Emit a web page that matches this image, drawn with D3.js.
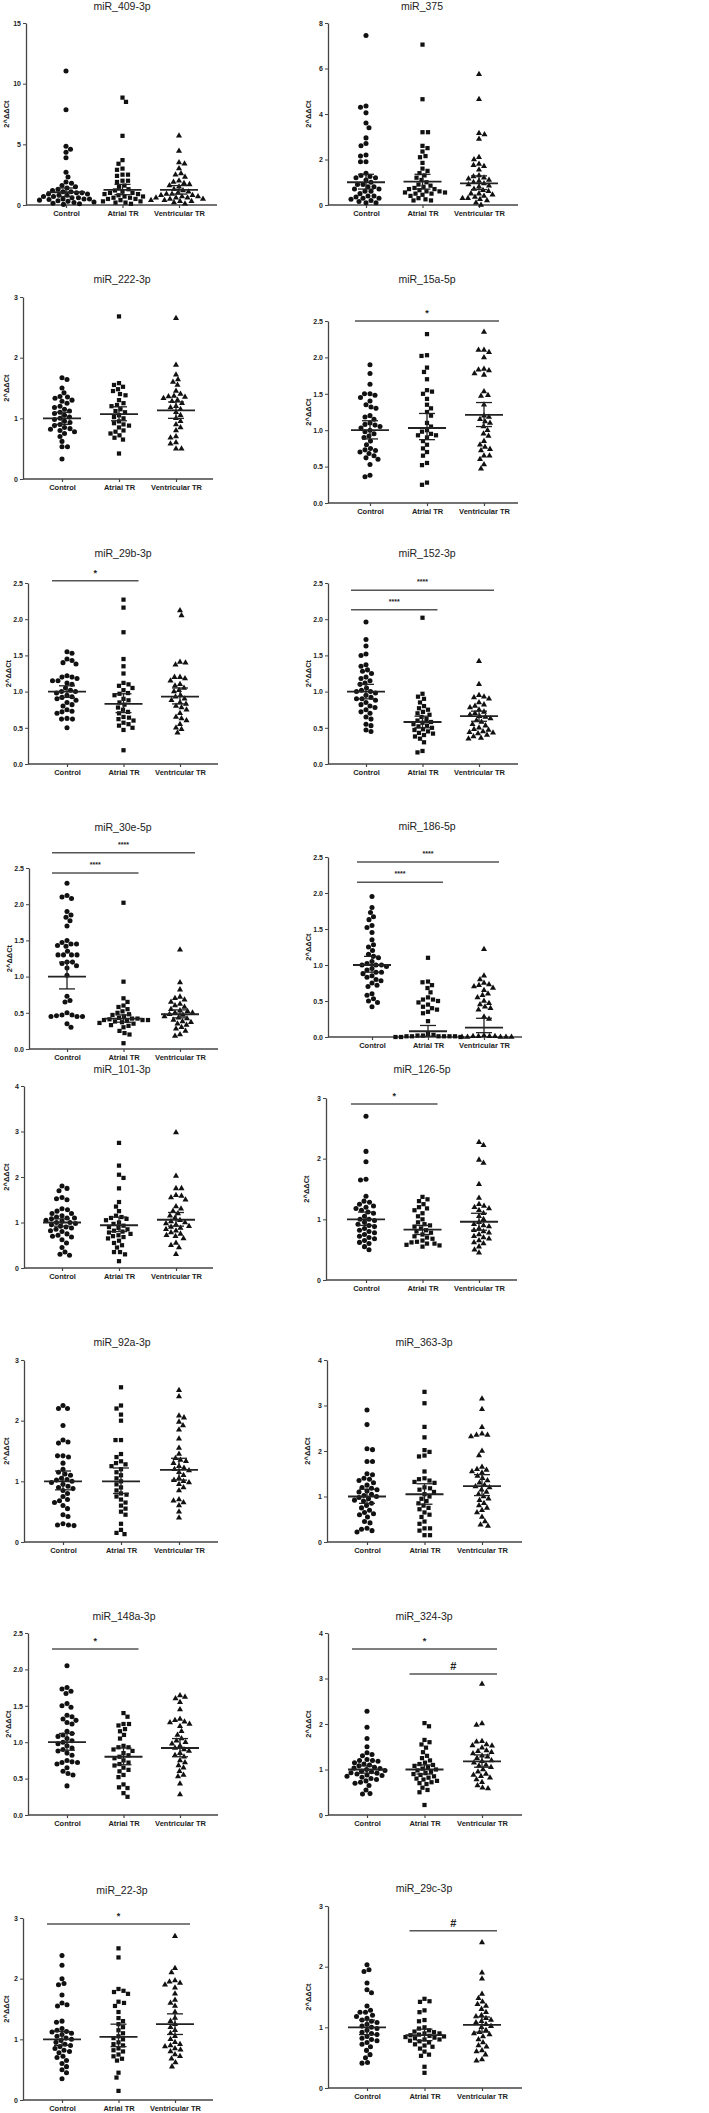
<!DOCTYPE html>
<html>
<head>
<meta charset="utf-8">
<script src="https://cdn.jsdelivr.net/npm/d3@7"></script>
<style>
  body { margin: 0; background: #fff; }
  svg { display: block; }
  text { font-family: "Liberation Sans Narrow", "Arial Narrow", "Liberation Sans", Arial, sans-serif; fill: #222; }
</style>
</head>
<body>
<svg width="709" height="2113"></svg>
<script>
const groups = ["Control", "Atrial TR", "Ventricular TR"];
const mirNames = ["miR_409-3p", "miR_375", "miR_222-3p", "miR_15a-5p", "miR_29b-3p", "miR_152-3p",
  "miR_30e-5p", "miR_186-5p", "miR_101-3p", "miR_126-5p", "miR_92a-3p", "miR_363-3p",
  "miR_148a-3p", "miR_324-3p", "miR_22-3p", "miR_29c-3p"];
const yMax  = [15, 8, 3, 2.5, 2.5, 2.5, 2.5, 2.5, 4, 3, 3, 4, 2.5, 4, 3, 3];
const yStep = [5, 2, 1, 0.5, 0.5, 0.5, 0.5, 0.5, 1, 1, 1, 1, 0.5, 1, 1, 1];

// 2^ΔΔCt values, one list per miRNA
const control = [
  [11.05,7.85,4.85,4.6,4.35,3.9,2.7,2.3,1.9,1.8,1.6,1.5,1.4,1.3,1.2,1.1,1.1,1.0,1.0,0.9,0.9,0.8,0.8,0.7,0.7,0.6,0.6,0.5,0.5,0.5,0.45,0.4,0.35,0.3,0.25,0.2,0.15,0.1,0.05],
  [7.45,4.35,4.3,4.05,3.6,3.4,2.95,2.7,2.6,2.2,2.15,1.9,1.9,1.4,1.3,1.25,1.2,1.2,1.1,1.0,0.9,0.9,0.8,0.8,0.7,0.7,0.6,0.6,0.5,0.4,0.4,0.35,0.3,0.3,0.25,0.2,0.15,0.1,0.1],
  [1.67,1.64,1.5,1.42,1.36,1.35,1.33,1.3,1.28,1.25,1.2,1.18,1.15,1.12,1.1,1.08,1.05,1.02,1.0,0.98,0.95,0.93,0.9,0.88,0.85,0.83,0.82,0.8,0.78,0.75,0.7,0.62,0.53,0.53,0.33],
  [1.9,1.78,1.63,1.5,1.5,1.48,1.45,1.4,1.35,1.32,1.3,1.2,1.18,1.15,1.1,1.08,1.07,1.05,1.03,1.0,0.98,0.95,0.92,0.9,0.85,0.8,0.75,0.73,0.72,0.7,0.68,0.65,0.62,0.6,0.53,0.38,0.36],
  [1.55,1.53,1.45,1.43,1.4,1.38,1.22,1.2,1.2,1.18,1.15,1.15,1.12,1.1,1.05,1.02,1.0,1.0,0.98,0.95,0.93,0.92,0.9,0.88,0.85,0.82,0.8,0.75,0.73,0.72,0.7,0.63,0.62,0.62,0.5],
  [1.96,1.72,1.63,1.52,1.5,1.37,1.35,1.3,1.28,1.25,1.2,1.18,1.15,1.12,1.1,1.05,1.02,1.0,1.0,0.98,0.95,0.92,0.9,0.9,0.88,0.85,0.82,0.8,0.78,0.75,0.72,0.7,0.65,0.62,0.55,0.53,0.47,0.45],
  [2.29,2.1,2.08,2.12,1.9,1.85,1.82,1.77,1.7,1.5,1.47,1.45,1.45,1.43,1.42,1.35,1.3,1.3,1.3,1.3,1.2,1.2,1.18,1.15,1.12,1.02,0.73,0.67,0.65,0.5,0.47,0.47,0.46,0.45,0.45,0.45,0.35,0.3],
  [1.95,1.8,1.73,1.67,1.63,1.55,1.52,1.45,1.35,1.28,1.25,1.2,1.15,1.12,1.1,1.05,1.02,1.0,1.0,1.0,0.98,0.95,0.93,0.9,0.9,0.88,0.85,0.83,0.8,0.78,0.75,0.72,0.7,0.6,0.58,0.53,0.5,0.48,0.42],
  [1.8,1.75,1.7,1.55,1.52,1.5,1.3,1.28,1.25,1.2,1.2,1.15,1.12,1.1,1.1,1.08,1.05,1.03,1.0,1.0,0.98,0.95,0.92,0.9,0.88,0.85,0.82,0.8,0.75,0.72,0.7,0.68,0.62,0.55,0.45,0.35,0.3,0.28],
  [2.7,2.12,1.95,1.66,1.65,1.38,1.3,1.28,1.25,1.22,1.2,1.18,1.15,1.12,1.1,1.05,1.0,1.0,0.98,0.95,0.92,0.9,0.88,0.85,0.82,0.8,0.78,0.75,0.72,0.7,0.68,0.65,0.62,0.6,0.55,0.5],
  [2.25,2.2,2.2,1.92,1.68,1.65,1.63,1.42,1.42,1.4,1.3,1.2,1.15,1.12,1.1,1.05,1.03,1.02,1.0,0.98,0.95,0.92,0.9,0.88,0.85,0.8,0.75,0.7,0.68,0.65,0.6,0.55,0.45,0.42,0.3,0.28,0.28,0.27],
  [2.9,2.58,2.05,2.03,1.77,1.77,1.5,1.48,1.4,1.38,1.35,1.3,1.25,1.2,1.18,1.15,1.12,1.1,1.05,1.02,1.0,0.98,0.95,0.92,0.9,0.85,0.8,0.75,0.7,0.65,0.62,0.6,0.55,0.45,0.42,0.3,0.28,0.25,0.22],
  [2.05,1.75,1.73,1.7,1.67,1.53,1.5,1.48,1.37,1.35,1.32,1.3,1.27,1.25,1.15,1.12,1.1,1.08,1.05,1.02,1.0,0.98,0.95,0.92,0.9,0.88,0.85,0.82,0.75,0.73,0.72,0.72,0.7,0.65,0.6,0.57,0.55,0.4],
  [2.28,1.93,1.68,1.5,1.37,1.33,1.3,1.22,1.2,1.2,1.18,1.15,1.12,1.1,1.08,1.05,1.03,1.02,1.0,0.98,0.96,0.95,0.93,0.92,0.9,0.88,0.87,0.85,0.83,0.8,0.78,0.75,0.72,0.7,0.65,0.55,0.47,0.46],
  [2.38,2.22,2.0,1.92,1.9,1.73,1.6,1.57,1.55,1.3,1.28,1.18,1.15,1.13,1.12,1.1,1.08,1.05,1.02,1.0,0.98,0.95,0.92,0.9,0.88,0.85,0.82,0.8,0.78,0.72,0.7,0.65,0.6,0.55,0.5,0.45,0.35],
  [2.03,1.95,1.92,1.73,1.62,1.57,1.35,1.28,1.25,1.25,1.2,1.18,1.15,1.12,1.1,1.08,1.05,1.02,1.0,0.98,0.95,0.92,0.9,0.88,0.85,0.82,0.8,0.78,0.75,0.72,0.68,0.62,0.55,0.5,0.42,0.41]
];
const atrial = [
  [8.85,8.5,5.7,3.7,3.4,3.0,2.9,2.5,2.5,2.4,2.0,2.0,1.9,1.6,1.5,1.3,1.2,1.1,1.0,1.0,0.9,0.9,0.8,0.7,0.7,0.6,0.6,0.5,0.5,0.4,0.3,0.3,0.2,0.2,0.1],
  [7.05,4.65,3.2,3.2,2.6,2.5,2.35,2.15,2.1,1.85,1.6,1.5,1.4,1.3,1.2,1.1,1.0,0.9,0.85,0.8,0.75,0.7,0.7,0.65,0.6,0.6,0.55,0.55,0.5,0.5,0.45,0.4,0.3,0.25,0.2,0.2],
  [2.68,1.58,1.55,1.52,1.48,1.45,1.4,1.38,1.3,1.25,1.22,1.2,1.15,1.12,1.1,1.05,1.02,1.0,0.95,0.92,0.9,0.88,0.85,0.8,0.78,0.75,0.72,0.68,0.65,0.42],
  [2.32,2.03,2.02,1.86,1.8,1.7,1.55,1.53,1.5,1.43,1.35,1.3,1.25,1.2,1.1,1.05,1.0,0.98,0.95,0.93,0.93,0.9,0.85,0.8,0.75,0.7,0.65,0.55,0.52,0.28,0.25],
  [2.27,2.16,1.82,1.45,1.35,1.25,1.12,1.1,1.08,1.05,1.02,0.98,0.97,0.95,0.9,0.88,0.85,0.82,0.78,0.75,0.72,0.7,0.65,0.64,0.62,0.6,0.57,0.55,0.53,0.5,0.47,0.19],
  [2.02,0.97,0.93,0.9,0.85,0.8,0.77,0.75,0.72,0.7,0.68,0.65,0.62,0.6,0.58,0.57,0.55,0.53,0.52,0.5,0.48,0.47,0.45,0.43,0.42,0.4,0.38,0.35,0.3,0.18,0.16],
  [2.02,0.93,0.7,0.65,0.6,0.58,0.55,0.52,0.5,0.48,0.47,0.45,0.43,0.42,0.42,0.41,0.4,0.4,0.4,0.39,0.38,0.37,0.36,0.35,0.33,0.32,0.3,0.25,0.22,0.2,0.08],
  [1.1,0.77,0.76,0.72,0.68,0.62,0.55,0.52,0.52,0.5,0.48,0.45,0.42,0.4,0.38,0.35,0.33,0.22,0.04,0.03,0.02,0.02,0.01,0.01,0.01,0.01,0.01,0.01,0.0,0.0,0.0],
  [2.75,2.25,2.05,1.98,1.75,1.45,1.35,1.25,1.15,1.12,1.1,1.08,1.05,1.0,0.97,0.93,0.9,0.88,0.85,0.82,0.8,0.78,0.75,0.72,0.7,0.68,0.65,0.6,0.55,0.5,0.45,0.35,0.35,0.3,0.15],
  [1.37,1.33,1.3,1.25,1.2,1.18,1.15,1.1,1.05,1.0,0.95,0.92,0.9,0.88,0.85,0.82,0.8,0.78,0.75,0.72,0.7,0.68,0.65,0.63,0.62,0.6,0.6,0.58,0.57,0.55],
  [2.55,2.25,2.2,2.1,2.0,1.68,1.68,1.45,1.4,1.33,1.3,1.28,1.25,1.2,1.15,1.1,1.05,1.0,0.95,0.9,0.85,0.8,0.78,0.75,0.7,0.65,0.6,0.55,0.5,0.45,0.3,0.2,0.15,0.13],
  [3.3,3.05,2.53,2.3,2.02,1.98,1.9,1.88,1.55,1.4,1.38,1.35,1.32,1.3,1.2,1.18,1.15,1.1,1.05,1.0,0.95,0.9,0.85,0.8,0.75,0.72,0.65,0.6,0.55,0.45,0.4,0.3,0.3,0.25,0.15,0.15],
  [1.4,1.35,1.25,1.25,1.23,1.18,1.15,1.1,1.05,0.95,0.93,0.93,0.9,0.88,0.85,0.82,0.8,0.78,0.75,0.72,0.7,0.68,0.65,0.62,0.6,0.55,0.52,0.42,0.38,0.37,0.3,0.25],
  [2.02,1.95,1.65,1.6,1.55,1.48,1.38,1.3,1.25,1.2,1.15,1.12,1.1,1.08,1.05,1.02,1.0,0.98,0.95,0.92,0.9,0.88,0.85,0.82,0.8,0.78,0.75,0.72,0.7,0.68,0.6,0.55,0.5,0.22],
  [2.5,2.35,1.83,1.8,1.78,1.75,1.62,1.6,1.55,1.45,1.35,1.3,1.25,1.2,1.15,1.1,1.05,1.02,1.0,0.95,0.92,0.9,0.85,0.82,0.8,0.75,0.72,0.68,0.65,0.45,0.37,0.15],
  [1.47,1.43,1.42,1.28,1.25,1.12,1.1,1.0,0.98,0.95,0.93,0.92,0.9,0.9,0.88,0.87,0.86,0.85,0.84,0.83,0.82,0.8,0.8,0.78,0.77,0.75,0.72,0.7,0.68,0.65,0.6,0.55,0.53,0.35,0.25]
];
const ventricular = [
  [5.7,4.45,3.5,3.4,3.0,2.6,2.5,2.3,2.0,1.9,1.8,1.7,1.6,1.5,1.3,1.2,1.1,1.0,0.9,0.9,0.8,0.8,0.7,0.7,0.6,0.6,0.6,0.5,0.5,0.4,0.4,0.3,0.3,0.2,0.1],
  [5.75,4.65,3.15,3.1,2.9,2.1,2.0,1.8,1.75,1.7,1.55,1.3,1.25,1.2,1.15,1.1,1.05,1.0,0.95,0.9,0.85,0.8,0.7,0.65,0.6,0.5,0.5,0.45,0.4,0.35,0.3,0.3,0.25,0.2,0.1,0.0],
  [2.65,1.88,1.72,1.64,1.6,1.55,1.45,1.4,1.37,1.36,1.35,1.33,1.3,1.28,1.25,1.2,1.18,1.15,1.1,1.05,1.0,0.95,0.9,0.85,0.8,0.7,0.68,0.6,0.58,0.5,0.5],
  [2.35,2.1,2.1,2.07,2.0,1.84,1.83,1.82,1.78,1.76,1.53,1.48,1.47,1.35,1.2,1.18,1.15,1.12,1.1,1.05,1.0,0.95,0.92,0.85,0.8,0.77,0.74,0.72,0.65,0.65,0.6,0.53,0.47],
  [2.12,2.05,1.41,1.4,1.37,1.2,1.2,1.18,1.15,1.1,1.08,1.05,1.02,1.0,0.95,0.93,0.9,0.88,0.85,0.83,0.8,0.78,0.75,0.7,0.65,0.63,0.6,0.55,0.5,0.48,0.43],
  [1.42,1.1,0.95,0.93,0.92,0.9,0.85,0.82,0.8,0.78,0.75,0.72,0.7,0.68,0.66,0.65,0.63,0.6,0.58,0.55,0.53,0.5,0.48,0.47,0.45,0.44,0.43,0.42,0.4,0.38,0.36,0.35],
  [1.37,0.92,0.82,0.72,0.7,0.68,0.65,0.62,0.6,0.58,0.55,0.53,0.52,0.5,0.5,0.48,0.47,0.45,0.43,0.42,0.4,0.38,0.37,0.35,0.33,0.3,0.28,0.25,0.2,0.18],
  [1.22,0.85,0.8,0.75,0.73,0.72,0.7,0.68,0.65,0.6,0.58,0.55,0.5,0.47,0.45,0.42,0.4,0.38,0.28,0.25,0.02,0.01,0.01,0.01,0.01,0.0,0.0,0.0,0.0,0.0],
  [2.98,2.02,1.75,1.75,1.6,1.58,1.55,1.5,1.35,1.3,1.25,1.2,1.15,1.1,1.05,1.02,1.0,0.98,0.95,0.92,0.9,0.88,0.85,0.82,0.78,0.75,0.72,0.7,0.65,0.55,0.5,0.45,0.3],
  [2.27,2.22,1.98,1.93,1.58,1.35,1.25,1.22,1.2,1.18,1.15,1.1,1.05,1.0,0.95,0.92,0.9,0.88,0.85,0.82,0.8,0.78,0.75,0.72,0.7,0.68,0.65,0.62,0.6,0.55,0.5,0.45],
  [2.5,2.4,2.08,2.05,1.98,1.92,1.85,1.7,1.55,1.45,1.38,1.35,1.33,1.3,1.25,1.22,1.2,1.18,1.15,1.1,1.05,1.02,1.0,0.98,0.95,0.9,0.85,0.7,0.68,0.65,0.6,0.5,0.4],
  [3.15,2.92,2.52,2.38,2.35,2.35,2.32,2.0,1.9,1.65,1.6,1.58,1.55,1.52,1.45,1.4,1.35,1.3,1.25,1.22,1.2,1.15,1.1,1.05,1.0,0.95,0.92,0.85,0.8,0.75,0.7,0.65,0.55,0.45,0.38,0.35],
  [1.64,1.62,1.6,1.55,1.45,1.32,1.3,1.28,1.27,1.25,1.22,1.15,1.1,1.05,1.02,1.0,0.98,0.95,0.92,0.9,0.88,0.85,0.82,0.8,0.75,0.72,0.68,0.65,0.6,0.55,0.53,0.43,0.28],
  [2.88,2.01,1.98,1.62,1.61,1.55,1.53,1.52,1.48,1.42,1.4,1.38,1.35,1.3,1.28,1.25,1.2,1.18,1.15,1.1,1.08,1.05,1.0,0.95,0.9,0.88,0.85,0.82,0.78,0.72,0.65,0.6,0.58],
  [2.7,2.17,2.1,1.97,1.95,1.93,1.9,1.85,1.75,1.65,1.6,1.55,1.45,1.35,1.3,1.25,1.2,1.15,1.1,1.05,1.0,0.95,0.92,0.9,0.88,0.85,0.83,0.8,0.75,0.72,0.68,0.62,0.55],
  [2.4,1.9,1.8,1.55,1.48,1.42,1.38,1.35,1.3,1.25,1.2,1.18,1.15,1.12,1.1,1.08,1.05,1.02,1.0,0.95,0.92,0.9,0.88,0.85,0.8,0.75,0.7,0.68,0.62,0.6,0.55,0.47,0.45]
];

// mean and SEM limits [Control, Atrial TR, Ventricular TR]
const means = [[1.05,1.25,1.25],[1.0,1.03,0.95],[1.0,1.07,1.13],[1.0,1.03,1.21],[1.0,0.83,0.93],[1.0,0.58,0.66],
  [1.0,0.42,0.48],[1.0,0.08,0.13],[1.0,0.94,1.06],[1.0,0.83,0.96],[1.0,1.0,1.19],[1.0,1.05,1.23],
  [1.0,0.8,0.92],[1.0,1.0,1.18],[1.0,1.04,1.25],[1.0,0.87,1.04]];
const semLow = [[0.7,0.85,0.9],[0.7,0.7,0.68],[0.9,0.96,1.0],[0.88,0.87,1.05],[0.92,0.71,0.83],[0.9,0.5,0.59],
  [0.83,0.37,0.43],[0.9,0.01,0.06],[0.92,0.8,0.92],[0.9,0.75,0.82],[0.86,0.8,1.02],[0.85,0.83,1.02],
  [0.89,0.69,0.8],[0.92,0.9,1.05],[0.9,0.88,1.08],[0.88,0.78,0.92]];
const semHigh = [[1.4,1.7,1.6],[1.35,1.35,1.28],[1.1,1.19,1.27],[1.13,1.23,1.38],[1.08,0.97,1.05],[1.1,0.66,0.73],
  [1.2,0.47,0.54],[1.12,0.16,0.26],[1.08,1.12,1.22],[1.12,0.9,1.1],[1.17,1.22,1.38],[1.16,1.28,1.48],
  [1.12,0.92,1.05],[1.08,1.1,1.32],[1.13,1.25,1.42],[1.12,0.97,1.17]];

// significance bars: [from group, to group, level, label]
const sigBars = [[], [], [], [[0,2,2.5,"*"]], [[0,1,2.53,"*"]], [[0,2,2.4,"****"],[0,1,2.13,"****"]],
  [[0,2,2.71,"****"],[0,1,2.43,"****"]], [[0,2,2.43,"****"],[0,1,2.15,"****"]], [], [[0,1,2.9,"*"]],
  [], [], [[0,1,2.28,"*"]], [[0,2,3.65,"*"],[1,2,3.1,"#"]], [[0,2,2.9,"*"]], [[1,2,2.59,"#"]]];

// panel placement (pixels): y axis x, x axis end, first/last category x, y of 0, y of top tick, title x/y
const layout = [
  {ax:26, xe:217, c0:66, c2:179, y0:205, y1:23, tx:122, ty:10},
  {ax:328, xe:518, c0:366, c2:479, y0:205, y1:23, tx:422, ty:10},
  {ax:23, xe:213, c0:62, c2:176, y0:479, y1:297, tx:122, ty:283},
  {ax:328, xe:518, c0:370, c2:484, y0:503, y1:321, tx:427, ty:283},
  {ax:28, xe:218, c0:67, c2:180, y0:764, y1:583, tx:123, ty:557},
  {ax:328, xe:518, c0:366, c2:479, y0:764, y1:583, tx:427, ty:557},
  {ax:29, xe:218, c0:67, c2:180, y0:1049, y1:868, tx:123, ty:831},
  {ax:328, xe:522, c0:372, c2:484, y0:1037, y1:857, tx:427, ty:830},
  {ax:24, xe:213, c0:62, c2:176, y0:1268, y1:1086, tx:122, ty:1073},
  {ax:326, xe:517, c0:366, c2:479, y0:1280, y1:1098, tx:422, ty:1073},
  {ax:24, xe:218, c0:63, c2:179, y0:1542, y1:1360, tx:122, ty:1346},
  {ax:327, xe:522, c0:367, c2:482, y0:1542, y1:1360, tx:424, ty:1346},
  {ax:28, xe:218, c0:67, c2:180, y0:1815, y1:1633, tx:124, ty:1620},
  {ax:328, xe:522, c0:367, c2:482, y0:1815, y1:1633, tx:424, ty:1620},
  {ax:23, xe:213, c0:62, c2:175, y0:2100, y1:1918, tx:122, ty:1894},
  {ax:328, xe:522, c0:367, c2:482, y0:2088, y1:1906, tx:424, ty:1892}
];

const svg = d3.select("svg");
const symbols = [d3.symbolCircle, d3.symbolSquare, d3.symbolTriangle];
const symSize = [20, 18, 16];
const gap = 5.2;

// simple beeswarm: push each point sideways until it clears the ones already placed
function swarm(vals, y, cx) {
  const pts = vals.map(v => ({ v, y: y(v) })).sort((a, b) => b.v - a.v);
  const placed = [];
  pts.forEach((p, i) => {
    const sign = i % 2 ? 1 : -1;
    for (let k = 0; k < 400; k++) {
      const off = k === 0 ? 0 : (k % 2 ? sign : -sign) * Math.ceil(k / 2) * 0.5;
      if (placed.every(q => (q.dx - off) ** 2 + (q.y - p.y) ** 2 >= gap * gap)) {
        p.dx = off;
        break;
      }
    }
    placed.push(p);
  });
  pts.forEach(p => p.x = cx + p.dx);
  return pts;
}

const sigDy = { "*": -5, "****": -6, "#": -4 };
const sigSize = { "*": 9, "****": 7, "#": 11 };

mirNames.forEach((name, i) => {
  const L = layout[i];
  const g = svg.append("g");
  const x = d3.scalePoint().domain(groups).range([L.c0, L.c2]);
  const y = d3.scaleLinear().domain([0, yMax[i]]).range([L.y0, L.y1]);
  const ticks = d3.range(0, yMax[i] + 1e-6, yStep[i]);
  const fmt = yStep[i] < 1 ? d3.format(".1f") : d3.format("d");

  g.append("text").attr("x", L.tx).attr("y", L.ty)
    .attr("text-anchor", "middle").style("font-size", "10.5px").text(name);

  const ya = g.append("g").attr("transform", `translate(${L.ax},0)`)
    .call(d3.axisLeft(y).tickValues(ticks).tickFormat(fmt).tickSize(3).tickSizeOuter(0).tickPadding(2));
  ya.select(".domain").attr("stroke", "#444").attr("stroke-width", 1.3);
  ya.selectAll(".tick line").attr("stroke", "#444");
  ya.selectAll(".tick text").style("font-size", "7px").style("font-weight", "bold").attr("fill", "#333");

  const xa = g.append("g").attr("transform", `translate(0,${L.y0})`)
    .call(d3.axisBottom(x).tickSize(3).tickPadding(3));
  xa.select(".domain").remove();
  xa.selectAll(".tick line").attr("stroke", "#444").attr("stroke-width", 1.2);
  xa.selectAll(".tick text").style("font-size", "7.5px").style("font-weight", "bold").attr("fill", "#333");
  g.append("line").attr("x1", L.ax).attr("x2", L.xe).attr("y1", L.y0).attr("y2", L.y0)
    .attr("stroke", "#444").attr("stroke-width", 1.5);

  g.append("text")
    .attr("transform", `translate(${Math.max(6, L.ax - 20)},${(L.y0 + L.y1) / 2}) rotate(-90)`)
    .attr("text-anchor", "middle").attr("dominant-baseline", "central")
    .style("font-size", "7.5px").style("font-weight", "bold")
    .text("2^ΔΔCt");

  [control[i], atrial[i], ventricular[i]].forEach((vals, k) => {
    const cx = x(groups[k]);
    g.append("g").selectAll("path")
      .data(swarm(vals, y, cx))
      .join("path")
      .attr("transform", d => `translate(${d.x},${d.y})`)
      .attr("d", d3.symbol(symbols[k], symSize[k]))
      .attr("fill", "#111");

    const eb = g.append("g").attr("stroke", "#222");
    eb.append("line").attr("x1", cx).attr("x2", cx)
      .attr("y1", y(semLow[i][k])).attr("y2", y(semHigh[i][k])).attr("stroke-width", 1.3);
    [semLow[i][k], semHigh[i][k]].forEach(v => {
      eb.append("line").attr("x1", cx - 8).attr("x2", cx + 8)
        .attr("y1", y(v)).attr("y2", y(v)).attr("stroke-width", 1.3);
    });
    eb.append("line").attr("x1", cx - 19).attr("x2", cx + 19)
      .attr("y1", y(means[i][k])).attr("y2", y(means[i][k])).attr("stroke-width", 1.8);
  });

  sigBars[i].forEach(([a, b, lvl, lab]) => {
    const x1 = x(groups[a]) - 15, x2 = x(groups[b]) + 15, yy = y(lvl);
    g.append("line").attr("x1", x1).attr("x2", x2).attr("y1", yy).attr("y2", yy)
      .attr("stroke", "#555").attr("stroke-width", 1.5);
    g.append("text").attr("x", (x1 + x2) / 2).attr("y", yy + sigDy[lab])
      .attr("text-anchor", "middle").style("font-size", sigSize[lab] + "px").style("font-weight", "bold")
      .text(lab);
  });
});
</script>
</body>
</html>
